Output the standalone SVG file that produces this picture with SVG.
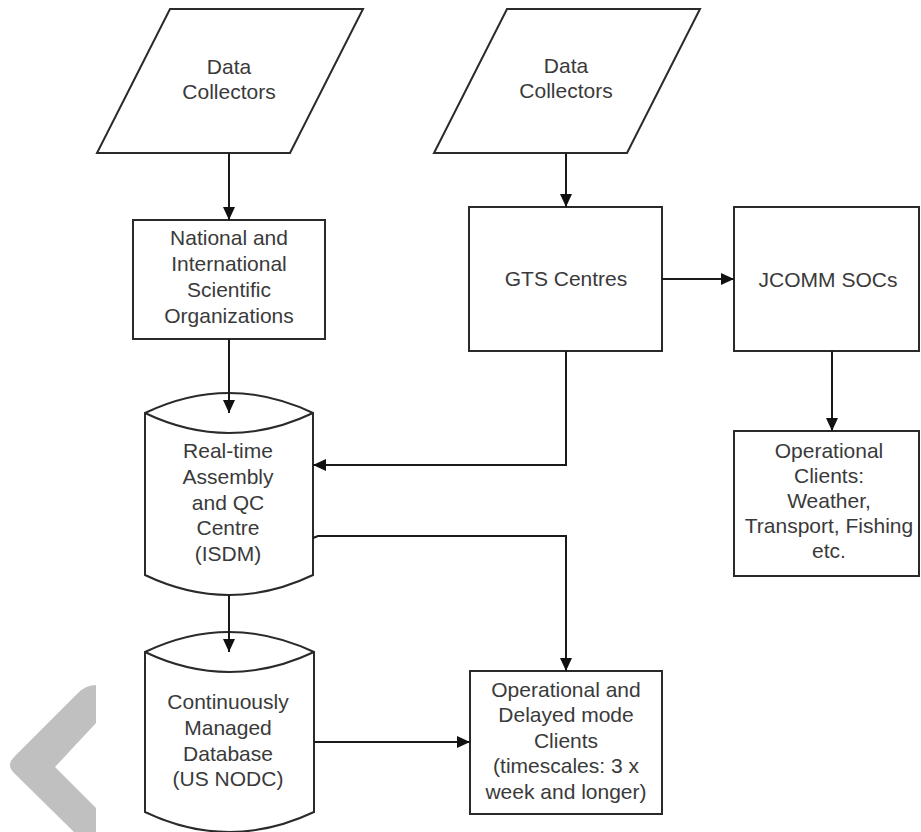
<svg xmlns="http://www.w3.org/2000/svg" width="921" height="832" viewBox="0 0 921 832">
<style>
.shape{fill:#fff;stroke:#2a2a2a;stroke-width:2}
.edge{fill:none;stroke:#1a1a1a;stroke-width:2}
.lbl{font-family:"Liberation Sans",Arial,sans-serif;font-size:21px;fill:#3a3a3a;text-anchor:middle}
</style>
<defs>
<marker id="ah" viewBox="0 0 13 12" refX="13" refY="6" markerWidth="13" markerHeight="12" markerUnits="userSpaceOnUse" orient="auto">
<path d="M0,0 L13,6 L0,12 Z" fill="#111"/>
</marker>
</defs>
<rect width="921" height="832" fill="#fff"/>
<path d="M96,685 L96,723 L55,767 L96,808 L96,832 L74,832 L14,773 Q6,765 14,757 L78,693 Q86,685 96,685 Z" fill="#c0c0c0"/>

<g id="dc1">
<polygon class="shape" points="170,9 363,9 290,153 97,153"/>
<text class="lbl" x="229" y="74">Data</text>
<text class="lbl" x="229" y="99">Collectors</text>
</g>
<g id="dc2">
<polygon class="shape" points="507,9 700,9 627,153 434,153"/>
<text class="lbl" x="566" y="73">Data</text>
<text class="lbl" x="566" y="98">Collectors</text>
</g>
<g id="nat">
<rect class="shape" x="133" y="220" width="192" height="119"/>
<text class="lbl" x="229" y="245">National and</text>
<text class="lbl" x="229" y="271">International</text>
<text class="lbl" x="229" y="297">Scientific</text>
<text class="lbl" x="229" y="323">Organizations</text>
</g>
<g id="gts">
<rect class="shape" x="469" y="207" width="193" height="144"/>
<text class="lbl" x="566" y="286">GTS Centres</text>
</g>
<g id="jcomm">
<rect class="shape" x="734" y="207" width="185" height="144"/>
<text class="lbl" x="828" y="287">JCOMM SOCs</text>
</g>
<g id="opclients">
<rect class="shape" x="734" y="431" width="185" height="145"/>
<text class="lbl" x="829" y="458">Operational</text>
<text class="lbl" x="829" y="483">Clients:</text>
<text class="lbl" x="829" y="508">Weather,</text>
<text class="lbl" x="829" y="533">Transport, Fishing</text>
<text class="lbl" x="829" y="558">etc.</text>
</g>
<g id="rtqc">
<path class="shape" d="M145,413 Q229,373 313,413 L313,575 Q229,615 145,575 Z"/>
<path class="edge" style="stroke:#2a2a2a" d="M145,413 Q229,453 313,413"/>
<text class="lbl" x="228" y="458">Real-time</text>
<text class="lbl" x="228" y="484">Assembly</text>
<text class="lbl" x="228" y="510">and QC</text>
<text class="lbl" x="228" y="535">Centre</text>
<text class="lbl" x="228" y="561">(ISDM)</text>
</g>
<g id="cmd">
<path class="shape" d="M145,652 Q229,612 314,652 L314,812 Q229,852 145,812 Z"/>
<path class="edge" style="stroke:#2a2a2a" d="M145,652 Q229,692 314,652"/>
<text class="lbl" x="228" y="709">Continuously</text>
<text class="lbl" x="228" y="735">Managed</text>
<text class="lbl" x="228" y="761">Database</text>
<text class="lbl" x="228" y="786">(US NODC)</text>
</g>
<g id="opdelayed">
<rect class="shape" x="470" y="671" width="192" height="143"/>
<text class="lbl" x="566" y="697">Operational and</text>
<text class="lbl" x="566" y="722">Delayed mode</text>
<text class="lbl" x="566" y="748">Clients</text>
<text class="lbl" x="566" y="773">(timescales: 3 x</text>
<text class="lbl" x="566" y="799">week and longer)</text>
</g>

<g id="connectors">
<path class="edge" d="M229,153 L229,220" marker-end="url(#ah)"/>
<path class="edge" d="M566,153 L566,207" marker-end="url(#ah)"/>
<path class="edge" d="M662,279 L734,279" marker-end="url(#ah)"/>
<path class="edge" d="M832,351 L832,431" marker-end="url(#ah)"/>
<path class="edge" d="M229,339 L229,413" marker-end="url(#ah)"/>
<path class="edge" d="M566,351 L566,465 L313,465" marker-end="url(#ah)"/>
<path class="edge" d="M313,538 L318,536 L566,536 L566,671" marker-end="url(#ah)"/>
<path class="edge" d="M229,595 L229,652" marker-end="url(#ah)"/>
<path class="edge" d="M314,742 L470,742" marker-end="url(#ah)"/>
</g>
</svg>
